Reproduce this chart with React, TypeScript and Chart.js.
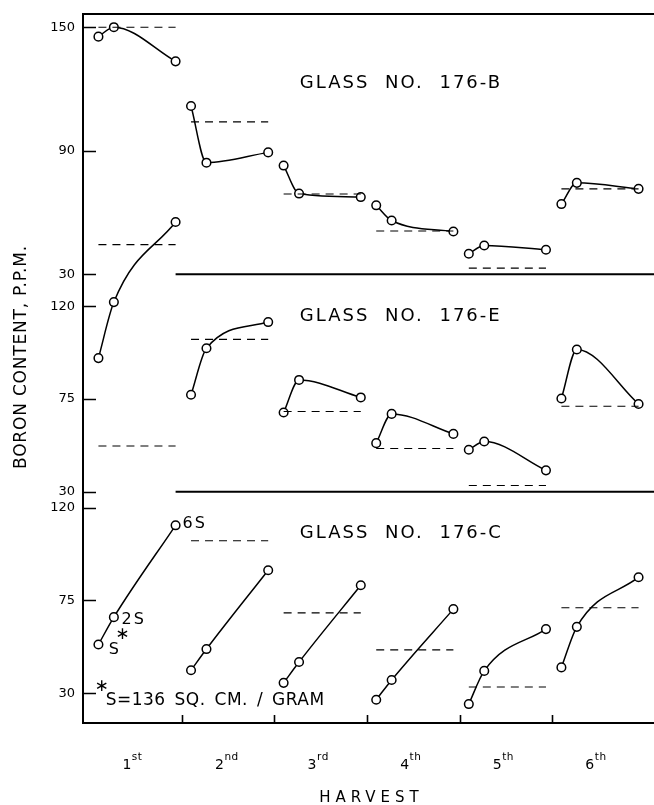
import React, { useEffect, useRef } from 'react';
import { Chart, registerables } from 'chart.js';

Chart.register(...registerables);

// ---- data ----
const HARVEST_NUMBERS = ['1', '2', '3', '4', '5', '6'];
const HARVEST_SUFFIXES = ['st', 'nd', 'rd', 'th', 'th', 'th'];
const SURFACE_MULTIPLES = [1, 2, 6]; // S, 2S, 6S
const CONTROL_PPM = [150, 104, 69, 51, 33, 71.5];

const GLASS_176B = [
  [145.4, 150, 133.4],
  [111.7, 84.2, 89.2],
  [82.8, 69.2, 67.5],
  [63.5, 56.1, 50.8],
  [40, 44, 41.9],
  [64.1, 74.4, 71.5],
];
const GLASS_176E = [
  [94.9, 122.1, 161],
  [77.1, 99.7, 112.4],
  [68.5, 84.3, 75.8],
  [53.6, 67.8, 58.1],
  [50.4, 54.4, 40.4],
  [75.3, 99.1, 72.6],
];
const GLASS_176C = [
  [53.6, 66.9, 111.5],
  [41.1, 51.4, 89.7],
  [35, 45.1, 82.4],
  [26.8, 36.4, 70.8],
  [24.7, 40.8, 61.1],
  [42.5, 62.2, 86.3],
];
const TICKS_B = [30, 90, 150];
const TICKS_E = [30, 75, 120];
const TICKS_C = [30, 75, 120];

// ---- layout of the three stacked panels on one value axis ----
const SLOT = 6; // one harvest spans six surface units
const X_MAX = 37;
const Y_MIN = 15.5;
const Y_MAX = 359.8;
const PANELS = [
  { title: 'GLASS NO. 176-B', values: GLASS_176B, ticks: TICKS_B, offset: 203.4, titleY: 122.9, separator: true },
  { title: 'GLASS NO. 176-E', values: GLASS_176E, ticks: TICKS_E, offset: 97.8, titleY: 115, separator: true },
  { title: 'GLASS NO. 176-C', values: GLASS_176C, ticks: TICKS_C, offset: 0, titleY: 107.8, separator: false },
];
const FONT = '"DejaVu Sans", sans-serif';

function drawText(
  ctx: CanvasRenderingContext2D,
  s: string,
  x: number,
  y: number,
  size: number,
  ls: number,
  align: CanvasTextAlign = 'left',
  ws = 0,
) {
  ctx.save();
  ctx.font = `${size}px ${FONT}`;
  (ctx as any).letterSpacing = `${ls}px`;
  (ctx as any).wordSpacing = `${ws}px`;
  ctx.fillStyle = '#000';
  ctx.textAlign = align;
  ctx.textBaseline = 'middle';
  ctx.fillText(s, x, y);
  ctx.restore();
}

const textPlugin = {
  id: 'figureText',
  afterDraw(chart: any) {
    const { ctx, chartArea } = chart;
    const xs = chart.scales.x;
    const ys = chart.scales.y;
    const px = (v: number) => xs.getPixelForValue(v);
    const py = (v: number, off: number) => ys.getPixelForValue(v + off);

    // inward tick marks
    ctx.save();
    ctx.strokeStyle = '#000';
    ctx.lineWidth = 1.6;
    ctx.beginPath();
    ys.ticks.forEach((t: any) => {
      const y = Math.round(ys.getPixelForValue(t.value)) + 0.5;
      ctx.moveTo(chartArea.left, y);
      ctx.lineTo(chartArea.left + 13, y);
    });
    xs.ticks.forEach((t: any) => {
      const x = Math.round(xs.getPixelForValue(t.value)) + 0.5;
      ctx.moveTo(x, chartArea.bottom);
      ctx.lineTo(x, chartArea.bottom - 8);
    });
    ctx.stroke();
    ctx.restore();

    // panel titles
    PANELS.forEach((p) => {
      drawText(ctx, p.title, px(14.05), py(p.titleY, p.offset), 18, 2, 'left', 8);
    });

    // annotations in panel C
    const offC = PANELS[2].offset;
    drawText(ctx, '6S', px(6.45), py(112.1, offC), 16, 2);
    drawText(ctx, '2S', px(2.5), py(65.8, offC), 16, 2);
    drawText(ctx, 'S', px(1.67), py(51, offC), 16, 1);
    drawText(ctx, '∗', px(2.55), py(58.5, offC), 17, 0, 'center');
    drawText(ctx, '∗', px(1.21), py(33, offC), 17, 0, 'center');
    drawText(ctx, 'S=136 SQ. CM. / GRAM', px(1.47), py(26.4, offC), 17, 0.5, 'left', 3);

    // harvest labels with superscripts
    const yb = chartArea.bottom;
    HARVEST_NUMBERS.forEach((n, i) => {
      const cx = px(i * SLOT + 3.1);
      drawText(ctx, n, cx - 4, yb + 42, 14, 0, 'center');
      drawText(ctx, HARVEST_SUFFIXES[i], cx + 1, yb + 34, 10.5, 0.5, 'left');
    });

    // axis titles
    drawText(ctx, 'HARVEST', (chartArea.left + chartArea.right) / 2 + 3, yb + 75, 15, 5, 'center');
    ctx.save();
    ctx.translate(22, 357);
    ctx.rotate(-Math.PI / 2);
    drawText(ctx, 'BORON CONTENT, P.P.M.', 0, 0, 17, 0.8, 'center');
    ctx.restore();
  },
};

const zeroPad = (axis: any) => {
  axis.paddingTop = 0;
  axis.paddingBottom = 0;
  axis.paddingLeft = 0;
  axis.paddingRight = 0;
};

export default function App() {
  const ref = useRef<HTMLCanvasElement>(null);

  useEffect(() => {
    const canvas = ref.current;
    if (!canvas) return;

    const datasets: any[] = [];

    // control levels (dashed)
    PANELS.forEach((p) => {
      const pts: any[] = [];
      CONTROL_PPM.forEach((c, h) => {
        pts.push({ x: h * SLOT + SURFACE_MULTIPLES[0], y: c + p.offset });
        pts.push({ x: h * SLOT + SURFACE_MULTIPLES[2], y: c + p.offset });
        pts.push({ x: h * SLOT + SURFACE_MULTIPLES[2], y: null });
      });
      datasets.push({
        data: pts,
        borderColor: '#000',
        borderWidth: 1.1,
        borderDash: [8, 6],
        pointRadius: 0,
        spanGaps: false,
        tension: 0,
      });
    });

    // panel separators
    PANELS.filter((p) => p.separator).forEach((p) => {
      datasets.push({
        data: [
          { x: SLOT, y: p.ticks[0] + p.offset },
          { x: X_MAX, y: p.ticks[0] + p.offset },
        ],
        borderColor: '#000',
        borderWidth: 2,
        pointRadius: 0,
        tension: 0,
      });
    });

    // boron curves
    PANELS.forEach((p) => {
      p.values.forEach((vals, h) => {
        datasets.push({
          data: vals.map((v, i) => ({ x: h * SLOT + SURFACE_MULTIPLES[i], y: v + p.offset })),
          borderColor: '#000',
          borderWidth: 1.5,
          cubicInterpolationMode: 'monotone',
          tension: 0.4,
          pointRadius: 4.3,
          pointBackgroundColor: '#fff',
          pointBorderColor: '#000',
          pointBorderWidth: 1.5,
        });
      });
    });

    const yTicks: number[] = [];
    const yLabels: string[] = [];
    [...PANELS].reverse().forEach((p) => {
      p.ticks.forEach((t) => {
        yTicks.push(t + p.offset);
        yLabels.push(String(t));
      });
    });

    const chart = new Chart(canvas, {
      type: 'line',
      data: { datasets },
      options: {
        responsive: false,
        maintainAspectRatio: false,
        devicePixelRatio: 1,
        animation: false,
        events: [],
        layout: { padding: 0, autoPadding: false },
        plugins: { legend: { display: false }, tooltip: { enabled: false } },
        scales: {
          x: {
            type: 'linear',
            position: 'bottom',
            min: 0,
            max: X_MAX,
            afterBuildTicks: (axis: any) => {
              axis.ticks = HARVEST_NUMBERS.slice(1).map((_, i) => ({ value: (i + 1) * SLOT + 0.4 }));
            },
            afterFit: (axis: any) => {
              axis.height = 82;
              zeroPad(axis);
            },
            ticks: { display: false },
            grid: { drawOnChartArea: false, drawTicks: false, color: '#000', lineWidth: 1.5 },
            border: { display: true, color: '#000', width: 2 },
          },
          x2: {
            type: 'linear',
            position: 'top',
            min: 0,
            max: X_MAX,
            afterFit: (axis: any) => {
              axis.height = 14;
              zeroPad(axis);
            },
            ticks: { display: false },
            grid: { display: false, drawTicks: false },
            border: { display: true, color: '#000', width: 2 },
          },
          y: {
            type: 'linear',
            position: 'left',
            min: Y_MIN,
            max: Y_MAX,
            afterBuildTicks: (axis: any) => {
              axis.ticks = yTicks.map((v) => ({ value: v }));
            },
            afterFit: (axis: any) => {
              axis.width = 83;
              zeroPad(axis);
            },
            ticks: {
              autoSkip: false,
              padding: 8,
              color: '#000',
              font: { family: FONT, size: 13 },
              callback: (_v: any, i: number) => yLabels[i],
            },
            grid: { drawOnChartArea: false, drawTicks: false, color: '#000', lineWidth: 1.5 },
            border: { display: true, color: '#000', width: 2 },
          },
        },
      },
      plugins: [textPlugin],
    } as any);

    return () => chart.destroy();
  }, []);

  return (
    <div style={{ position: 'fixed', left: 0, top: 0, width: 654, height: 805, background: '#fff' }}>
      <canvas ref={ref} width={654} height={805} style={{ display: 'block', width: 654, height: 805 }} />
    </div>
  );
}
